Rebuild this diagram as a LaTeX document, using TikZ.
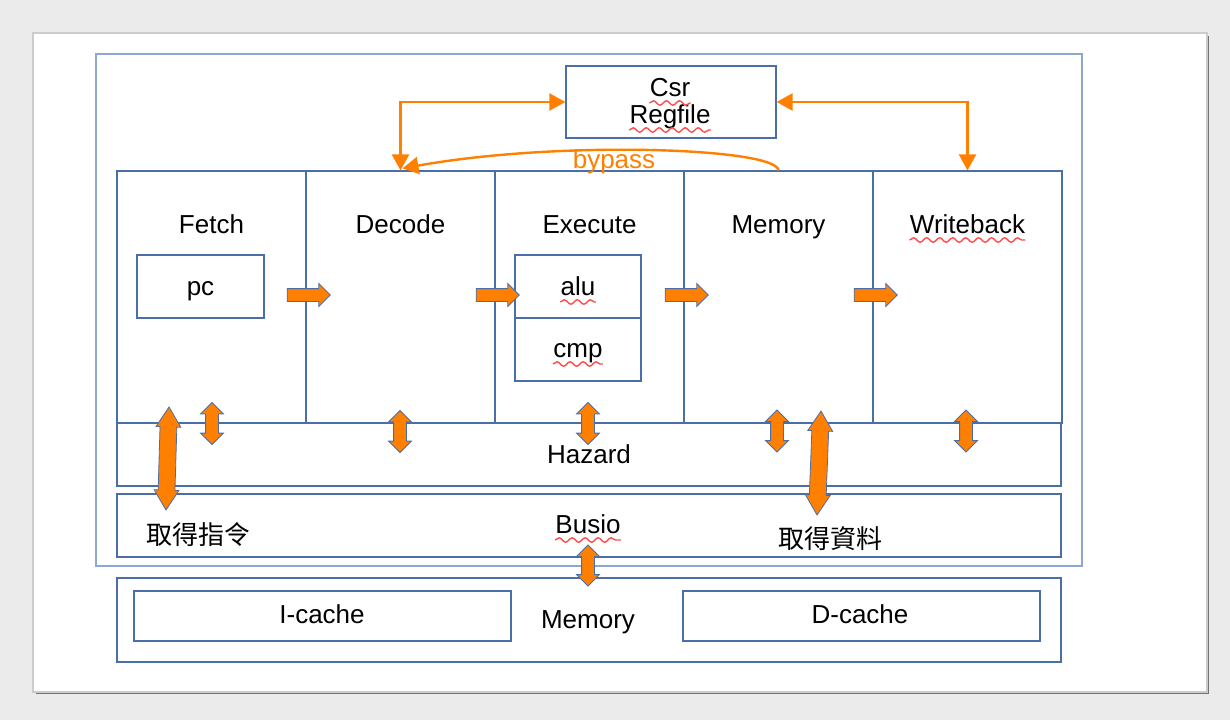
\documentclass[tikz,border=0pt]{standalone}
\usepackage{fontspec}
\setmainfont{Liberation Sans}
\newfontfamily\cjkfont{Noto Sans CJK TC}
\usetikzlibrary{shapes.arrows,arrows.meta,decorations.pathmorphing,positioning}

\definecolor{boxblue}{HTML}{4A6FA8}
\definecolor{outerblue}{HTML}{8DA8D0}
\definecolor{pipeorange}{HTML}{FF8000}
\definecolor{slidegray}{HTML}{EBEBEB}

\begin{document}
\begin{tikzpicture}[x=0.5pt,y=-0.5pt,
    font=\fontsize{13}{15}\selectfont,
    box/.style={draw=boxblue,line width=0.6pt,fill=white,inner sep=0pt},
    txt/.style={anchor=base,inner sep=0pt},
    fwd/.style={single arrow,draw=boxblue,line width=0.4pt,fill=pipeorange,
      inner sep=3pt,minimum height=21.5pt,single arrow head extend=2.5pt},
    dbl/.style={double arrow,draw=boxblue,line width=0.4pt,fill=pipeorange,
      inner sep=3pt,double arrow head extend=2.5pt},
    dbllong/.style={dbl,inner sep=4pt,double arrow head extend=2pt,
      double arrow tip angle=64},
    link/.style={draw=pipeorange,line width=1.2pt},
    typo/.style={draw=red!70,line width=0.7pt,decorate,
      decoration={snake,segment length=6.5pt,amplitude=1.1pt}}]
    \useasboundingbox (0,0) rectangle (1230,720);
    % slide
    \fill[slidegray] (0,0) rectangle (1230,720);
    \fill[black!55] (36,36) rectangle (1209,694);
    \filldraw[fill=white,draw=black!20,line width=1pt] (33,33) rectangle (1207,692);

    % core and csr
    \node[box,draw=outerblue,minimum width=493pt,minimum height=256pt] (core) at (589,310) {};
    \node[box,minimum width=105pt,minimum height=36pt] (csr) at (671,102) {};
    \node[txt] (csr-t) at (670,96) {Csr};
    \node[txt] (reg-t) at (670,123) {Regfile};

    % pipeline stages
    \foreach \name/\cx/\title in {fetch/211.5/Fetch,decode/400.5/Decode,
        execute/589.5/Execute,memory/778.5/Memory,writeback/967.5/Writeback}{
      \node[box,minimum width=94.5pt,minimum height=126pt] (\name) at (\cx,297) {};
      \node[txt] (\name-t) at (\cx,233) {\title};
    }
    \node[box,minimum width=63.5pt,minimum height=31.5pt] (pc) at (200.5,286.5) {};
    \node[txt] at (pc.center) [yshift=-4.5pt] {pc};
    \node[box,minimum width=63pt,minimum height=31.5pt] (alu) at (578,286.5) {};
    \node[box,minimum width=63pt,minimum height=31.5pt] (cmp) at (578,349.5) {};
    \node[txt] (alu-t) at (578,295) {alu};
    \node[txt] (cmp-t) at (578,357) {cmp};

    % hazard, bus, memory
    \node[box,minimum width=472pt,minimum height=31.5pt] (hazard) at (589,454.5) {Hazard};
    \node[box,minimum width=472pt,minimum height=31.5pt] (busio) at (589,525.5) {};
    \node[txt] (busio-t) at (588,533) {Busio};
    \node[box,minimum width=472pt,minimum height=42pt] (mem) at (589,620) {};
    \node[txt] at (588,628) {Memory};
    \node[box,minimum width=188.5pt,minimum height=25pt] (icache) at (322.5,616) {};
    \node[txt] at (322,623) {I-cache};
    \node[box,minimum width=178.5pt,minimum height=25pt] (dcache) at (861.5,616) {};
    \node[txt] at (860,623) {D-cache};

    \node[font=\cjkfont\fontsize{13}{15}\selectfont] (fetch-note) at (198,535) {取得指令};
    \node[font=\cjkfont\fontsize{13}{15}\selectfont] (mem-note) at (830,539) {取得資料};

    % stage arrows
    \node[fwd] at (305.5,295) {};
    \node[fwd] at (494.5,295) {};
    \node[fwd] at (683.5,295) {};
    \node[fwd] at (872.5,295) {};

    % hazard and bus arrows
    \node[dbl,rotate=90,minimum height=21pt] at (212,423.5) {};
    \node[dbl,rotate=90,minimum height=21pt] at (400,431.5) {};
    \node[dbl,rotate=90,minimum height=21pt] at (588,423.5) {};
    \node[dbl,rotate=90,minimum height=21pt] at (777,431) {};
    \node[dbl,rotate=90,minimum height=21pt] at (966,431) {};
    \node[dbllong,rotate=88.3,minimum height=51.5pt] at (167.5,458.5) {};
    \node[dbllong,rotate=87.8,minimum height=52pt] at (819,463) {};
    \node[dbl,rotate=90,minimum height=20.5pt] at (588,565.5) {};

    % csr links and bypass
    \draw[link,{Triangle[length=8pt,width=8.5pt]}-{Triangle[length=8pt,width=8.5pt]}]
      (decode.north) |- (csr.west);
    \draw[link,{Triangle[length=8pt,width=8.5pt]}-{Triangle[length=8pt,width=8.5pt]}]
      (writeback.north) |- (csr.east);
    \draw[link,-{Triangle[length=8pt,width=8.5pt]}]
      (memory.north) .. controls (777,148) and (560,140) .. ([xshift=1pt,yshift=1pt]decode.north);
    \node[txt,text=pipeorange] (bypass-t) at (614,168) {bypass};

    % spelling marks
    \foreach \w in {csr-t,reg-t,writeback-t,alu-t,cmp-t,busio-t}
      \draw[typo] ([yshift=-3.5pt]\w.base west) -- ([yshift=-3.5pt]\w.base east);
\end{tikzpicture}
\end{document}
